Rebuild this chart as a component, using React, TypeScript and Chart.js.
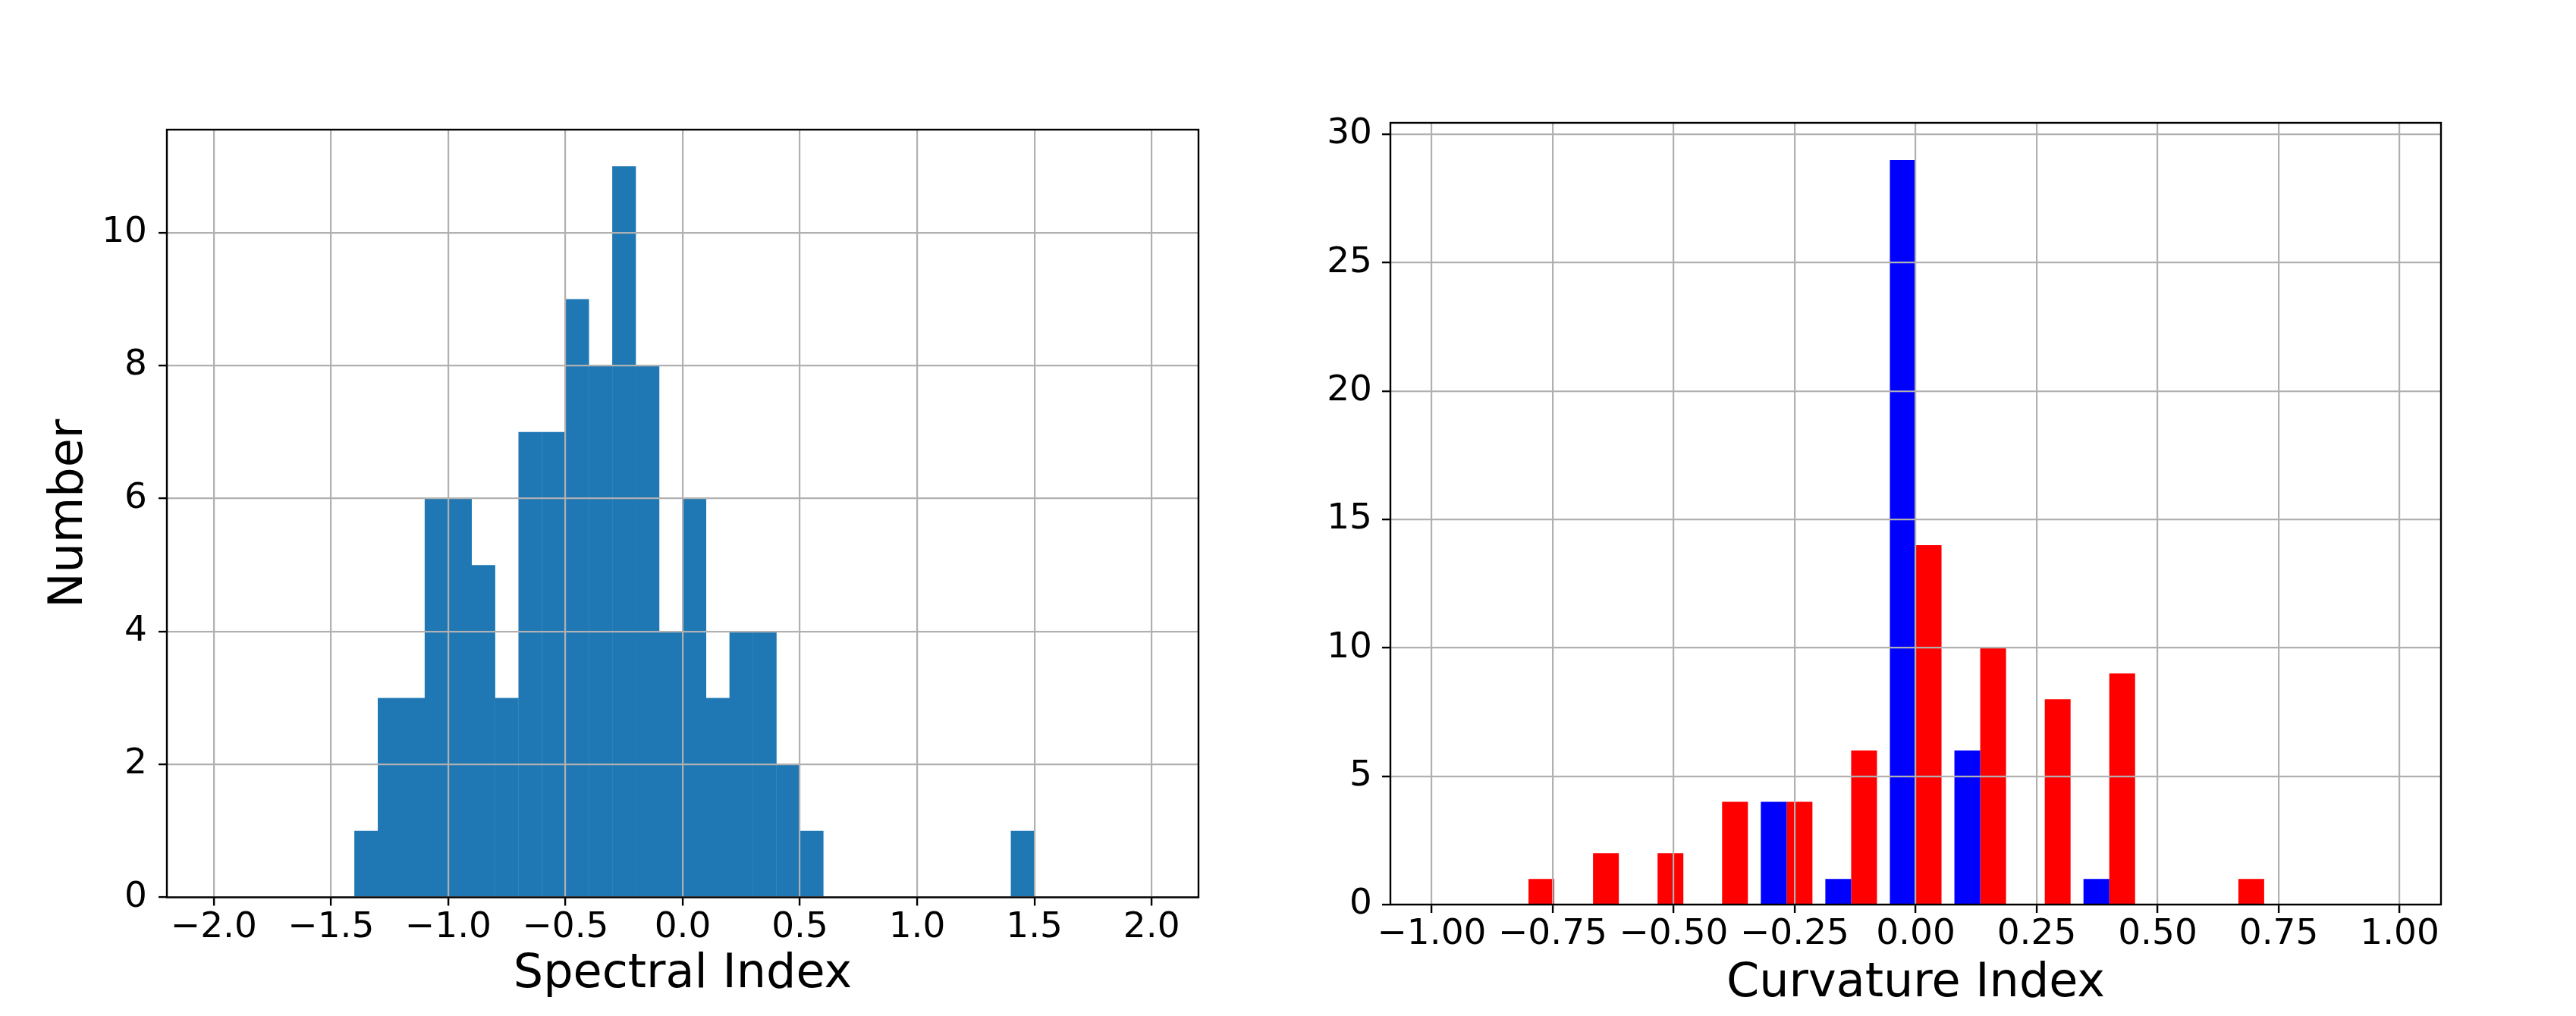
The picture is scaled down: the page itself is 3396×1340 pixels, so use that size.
import React, { useEffect, useRef } from 'react';
import { Chart, registerables } from 'chart.js';

Chart.register(...registerables);

// ---- Left panel: Spectral Index histogram (bin width 0.1) ----
const spectralBinCenters = [-1.35, -1.25, -1.15, -1.05, -0.95, -0.85, -0.75, -0.65, -0.55, -0.45, -0.35, -0.25, -0.15, -0.05, 0.05, 0.15, 0.25, 0.35, 0.45, 0.55, 1.45];
const spectralCounts = [1, 3, 3, 6, 6, 5, 3, 7, 7, 9, 8, 11, 8, 4, 6, 3, 4, 4, 2, 1, 1];
const spectralXTicks = [-2.0, -1.5, -1.0, -0.5, 0.0, 0.5, 1.0, 1.5, 2.0];
const spectralYTicks = [0, 2, 4, 6, 8, 10];

// ---- Right panel: Curvature Index histogram (bin width 2/15, two series) ----
const curvatureBinCenters = [-0.8, -0.66667, -0.53333, -0.4, -0.26667, -0.13333, 0, 0.13333, 0.26667, 0.4, 0.53333, 0.66667];
const curvatureBlue = [0, 0, 0, 0, 4, 1, 29, 6, 0, 1, 0, 0];
const curvatureRed = [1, 2, 2, 4, 4, 6, 14, 10, 8, 9, 0, 1];
const curvatureXTicks = [-1.0, -0.75, -0.5, -0.25, 0.0, 0.25, 0.5, 0.75, 1.0];
const curvatureYTicks = [0, 5, 10, 15, 20, 25, 30];

Chart.defaults.font.family = "'DejaVu Sans', sans-serif";
Chart.defaults.color = '#000';

const fmt = (v: number, d: number) => (v < -1e-9 ? '\u2212' : '') + Math.abs(v).toFixed(d);

const framePlugin = {
  id: 'frame',
  afterDraw(chart: any) {
    const { ctx, chartArea: a } = chart;
    ctx.save();
    ctx.strokeStyle = '#000';
    ctx.lineWidth = 2.4;
    ctx.strokeRect(a.left, a.top, a.right - a.left, a.bottom - a.top);
    ctx.restore();
  },
};

const gridOpts = {
  offset: false,
  color: '#b0b0b0',
  lineWidth: 2.2,
  z: 1,
  drawTicks: true,
  tickLength: 11,
  tickColor: '#000',
  tickWidth: 2.4,
};

function makeXScale(min: number, max: number, ticks: number[], decimals: number, fitHeight: number, title: string, titlePadBottom: number) {
  return {
    type: 'linear',
    min,
    max,
    offset: false,
    afterBuildTicks: (s: any) => {
      s.ticks = ticks.map((v) => ({ value: v }));
    },
    afterFit: (s: any) => {
      s.height = fitHeight;
    },
    grid: gridOpts,
    border: { display: false },
    ticks: {
      padding: 1,
      font: { size: 47 },
      color: '#000',
      autoSkip: false,
      maxRotation: 0,
      minRotation: 0,
      callback: (v: any) => fmt(Number(v), decimals),
    },
    title: {
      display: true,
      text: title,
      color: '#000',
      font: { size: 62 },
      padding: { top: 0, bottom: titlePadBottom },
    },
  };
}

function makeYScale(max: number, ticks: number[], fitWidth: number, labelPad: number, title?: string) {
  return {
    type: 'linear',
    min: 0,
    max,
    afterBuildTicks: (s: any) => {
      s.ticks = ticks.map((v) => ({ value: v }));
    },
    afterFit: (s: any) => {
      s.width = fitWidth;
    },
    grid: gridOpts,
    border: { display: false },
    ticks: {
      padding: labelPad,
      font: { size: 47 },
      color: '#000',
      autoSkip: false,
      callback: (v: any) => String(Math.round(Number(v))),
    },
    title: title
      ? { display: true, text: title, color: '#000', font: { size: 62 }, padding: { top: 55, bottom: 0 } }
      : { display: false },
  };
}

function ChartCanvas({ width, height, left, build }: { width: number; height: number; left: number; build: () => any }) {
  const ref = useRef<HTMLCanvasElement | null>(null);
  useEffect(() => {
    if (!ref.current) return;
    const chart = new Chart(ref.current, build());
    return () => chart.destroy();
  }, []);
  return (
    <canvas
      ref={ref}
      width={width}
      height={height}
      style={{ position: 'absolute', left, top: 0, width, height }}
    />
  );
}

function buildSpectral() {
  return {
    type: 'bar',
    data: {
      datasets: [
        {
          data: spectralBinCenters.map((x, i) => ({ x, y: spectralCounts[i] })),
          backgroundColor: '#1f77b4',
          borderWidth: 0,
          categoryPercentage: 1,
          barPercentage: 1.01,
        },
      ],
    },
    options: {
      animation: false,
      responsive: false,
      devicePixelRatio: 1,
      layout: { padding: { left: 0, top: 171, right: 120, bottom: 0 } },
      plugins: { legend: { display: false }, tooltip: { enabled: false } },
      scales: {
        x: makeXScale(-2.2, 2.2, spectralXTicks, 1, 156.5, 'Spectral Index', 16.6),
        y: makeYScale(11.55, spectralYTicks, 220, 15, 'Number'),
      },
    },
    plugins: [framePlugin],
  } as any;
}

function buildCurvature() {
  return {
    type: 'bar',
    data: {
      datasets: [
        {
          data: curvatureBinCenters.map((x, i) => ({ x, y: curvatureBlue[i] })),
          backgroundColor: '#0000ff',
          borderWidth: 0,
          categoryPercentage: 0.8,
          barPercentage: 1,
        },
        {
          data: curvatureBinCenters.map((x, i) => ({ x, y: curvatureRed[i] })),
          backgroundColor: '#ff0000',
          borderWidth: 0,
          categoryPercentage: 0.8,
          barPercentage: 1,
        },
      ],
    },
    options: {
      animation: false,
      responsive: false,
      devicePixelRatio: 1,
      layout: { padding: { left: 0, top: 162, right: 178, bottom: 0 } },
      plugins: { legend: { display: false }, tooltip: { enabled: false } },
      scales: {
        x: makeXScale(-1.0853, 1.0853, curvatureXTicks, 2, 147, 'Curvature Index', 5),
        y: makeYScale(30.45, curvatureYTicks, 133, 13),
      },
    },
    plugins: [framePlugin],
  } as any;
}

export default function App() {
  return (
    <div style={{ position: 'fixed', left: 0, top: 0, width: 3396, height: 1340, background: '#fff' }}>
      <ChartCanvas width={1700} height={1340} left={0} build={buildSpectral} />
      <ChartCanvas width={1696} height={1340} left={1700} build={buildCurvature} />
    </div>
  );
}
